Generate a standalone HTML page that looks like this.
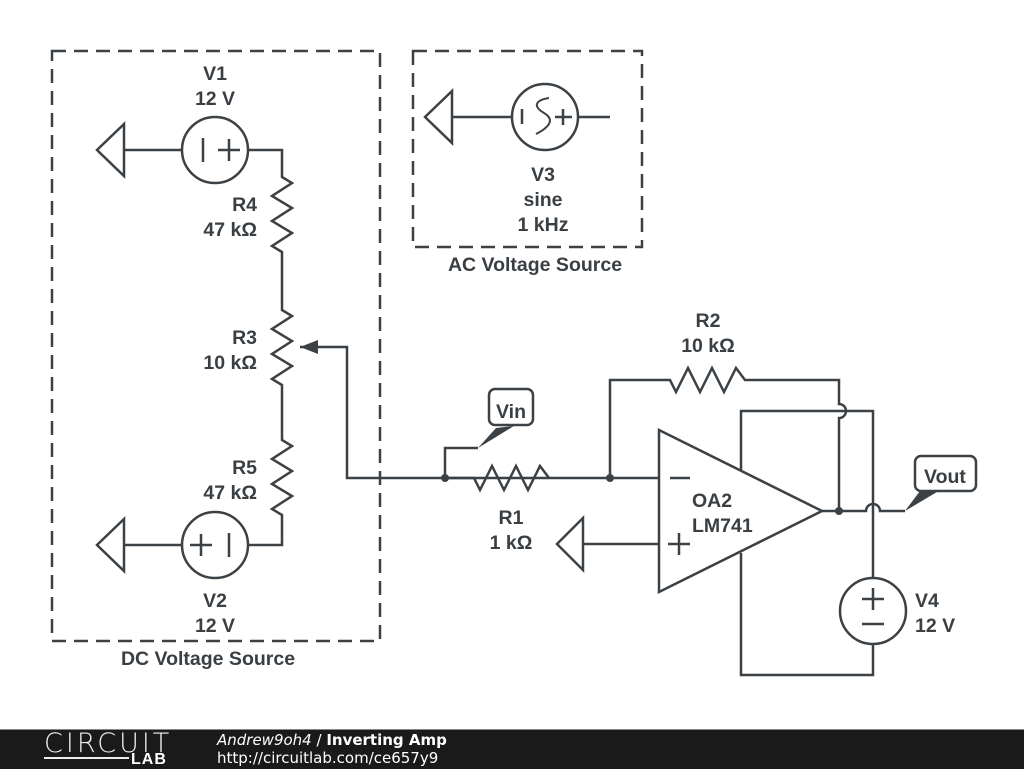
<!DOCTYPE html>
<html><head><style>
body{margin:0;width:1024px;height:768px;background:#fff;overflow:hidden;position:relative;font-family:"Liberation Sans",sans-serif}
svg text{font-family:"Liberation Sans",sans-serif;font-weight:bold;font-size:19.5px;fill:#3a3f44}
#bar{position:absolute;left:0;top:729px;width:1024px;height:39px;background:#1a1a1a;border-top:1px solid #888}
</style></head><body>
<svg width="1024" height="729" viewBox="0 0 1024 729" style="position:absolute;left:0;top:0">
<g fill="none" stroke="#3c4145" stroke-width="2.5" stroke-linejoin="miter">
<rect x="52" y="51" width="328" height="590" stroke-dasharray="14,8"/>
<rect x="413" y="51" width="229" height="196" stroke-dasharray="14,8"/>
<circle cx="215" cy="150" r="33"/>
<path d="M124 124 L97 150 L124 176 Z M124 150 H182 M248 150 H282 V177 L292 183 L272 196 L292 208 L272 221 L292 233 L272 246 L282 252 V310 L292 316 L272 329 L292 341 L272 354 L292 366 L272 379 L282 385 V440 L292 446 L272 459 L292 471 L272 484 L292 496 L272 509 L282 515 V545 H248"/>
<path d="M203 138 V162 M218 150 H240 M229 139 V161"/>
<circle cx="215" cy="545" r="33"/>
<path d="M124 519 L97 545 L124 571 Z M124 545 H182 M229 533 V557 M190 545 H212 M201 534 V556"/>
<path d="M300 347 H347 V478 H610 M445 478 V448 H478"/>
<circle cx="545" cy="117" r="33"/>
<path d="M452 91 L425 117 L452 143 Z M452 117 H512 M578 117 H610 M522 109 V124 M555 117 H572 M563 109 V125"/>
<path d="M549 98 C536 100 532 106 544 113 C556 120 548 128 536 134" stroke-width="2"/>
<path d="M445 478 H474 L480 490 L492 466 L504 490 L516 466 L528 490 L540 466 L549 478"/>
<path d="M610 478 V380 H670 L676 392 L688 368 L700 392 L712 368 L724 392 L736 368 L745 380 H839 V404 A7 7 0 0 1 839 418 V511"/>
<path d="M610 478 H659 M583 518 L557 544 L583 570 Z M583 544 H659"/>
<path d="M659 430 L822 511 L659 592 Z"/>
<path d="M670 478 H690 M668 544 H690 M679 533 V555"/>
<path d="M741 470 V411 H873 V578 M741 553 V675 H873 V644"/>
<path d="M822 511 H866 A7 7 0 0 1 880 511 H905"/>
<circle cx="873" cy="611" r="33"/>
<path d="M862 599 H884 M873 588 V610 M862 624 H884"/>
</g>
<g fill="#3c4145">
<path d="M300 347 L318 340 L318 354 Z"/>
<circle cx="445" cy="478" r="4"/><circle cx="610" cy="478" r="4"/><circle cx="839" cy="511" r="4"/>
<path d="M478 448 L496 428 L514 426 Z"/>
<path d="M905 511 L920 491 L942 489 Z"/>
</g>
<rect x="489" y="389" width="44" height="36" rx="6" fill="#fff" stroke="#3c4145" stroke-width="2.5"/>
<rect x="915" y="456" width="61" height="35" rx="6" fill="#fff" stroke="#3c4145" stroke-width="2.5"/>
<text x="511" y="418" text-anchor="middle">Vin</text>
<text x="945" y="483" text-anchor="middle">Vout</text>
<text x="215" y="80" text-anchor="middle">V1</text>
<text x="215" y="105" text-anchor="middle">12 V</text>
<text x="257" y="211" text-anchor="end">R4</text>
<text x="257" y="236" text-anchor="end">47 kΩ</text>
<text x="257" y="344" text-anchor="end">R3</text>
<text x="257" y="369" text-anchor="end">10 kΩ</text>
<text x="257" y="474" text-anchor="end">R5</text>
<text x="257" y="499" text-anchor="end">47 kΩ</text>
<text x="215" y="607" text-anchor="middle">V2</text>
<text x="215" y="632" text-anchor="middle">12 V</text>
<text x="208" y="665" text-anchor="middle">DC Voltage Source</text>
<text x="543" y="181" text-anchor="middle">V3</text>
<text x="543" y="206" text-anchor="middle">sine</text>
<text x="543" y="231" text-anchor="middle">1 kHz</text>
<text x="535" y="271" text-anchor="middle">AC Voltage Source</text>
<text x="511" y="524" text-anchor="middle">R1</text>
<text x="511" y="549" text-anchor="middle">1 kΩ</text>
<text x="708" y="327" text-anchor="middle">R2</text>
<text x="708" y="352" text-anchor="middle">10 kΩ</text>
<text x="692" y="507">OA2</text>
<text x="692" y="532">LM741</text>
<text x="915" y="607">V4</text>
<text x="915" y="632">12 V</text>
</svg>
<div id="bar">
<div style="position:absolute;left:44px;top:0px;color:#eee;font-size:27px;letter-spacing:3px;font-family:'DejaVu Sans',sans-serif;font-weight:200;line-height:28px">CIRCUIT</div>
<div style="position:absolute;left:44px;top:27px;width:85px;height:2px;background:#eee"></div>
<div style="position:absolute;left:131px;top:22px;color:#fff;font-size:16px;font-weight:bold;line-height:15px;letter-spacing:1px">LAB</div>
<div style="position:absolute;left:217px;top:1px;color:#fff;font-size:15px;font-family:'DejaVu Sans',sans-serif;line-height:18px"><i>Andrew9oh4</i> / <b>Inverting Amp</b></div>
<div style="position:absolute;left:217px;top:19px;color:#fff;font-size:15px;font-family:'DejaVu Sans',sans-serif;line-height:18px">http://circuitlab.com/ce657y9</div>
</div>
</body></html>
